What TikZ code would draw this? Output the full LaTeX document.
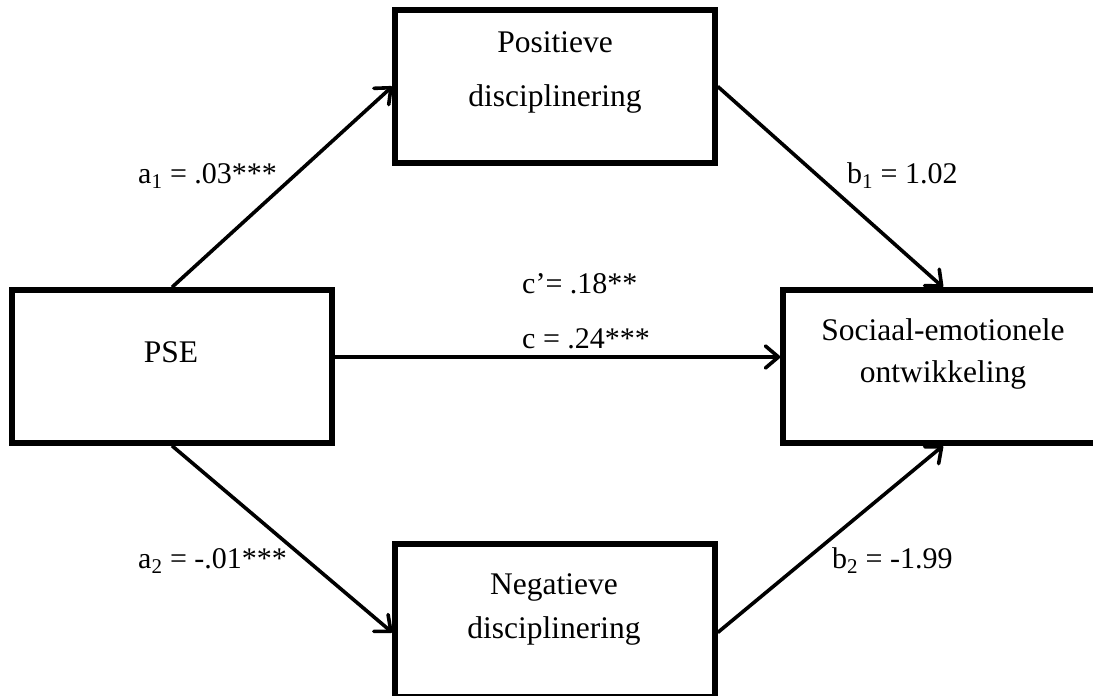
\documentclass[tikz,border=0pt]{standalone}
\usepackage{fontspec}
\setmainfont{Liberation Serif}
\usetikzlibrary{arrows.meta}
\begin{document}
\begin{tikzpicture}[x=1pt,y=-1pt,
  box/.style={draw=black,line width=5.5pt,rectangle,minimum width=320pt,minimum height=153pt,inner sep=0pt},
  txt/.style={anchor=base,inner sep=0pt,font=\fontsize{31.5pt}{38pt}\selectfont},
  lbl/.style={anchor=base west,inner sep=0pt,font=\fontsize{30pt}{36pt}\selectfont},
  arr/.style={line width=3.6pt,-{Straight Barb[length=13pt,width=22pt,line cap=round,line join=round]}}]
\useasboundingbox (0,0) rectangle (1093,696);
\clip (0,0) rectangle (1093,696);
% boxes
\node[box] (pse) at (172,366.5) {};
\node[box] (pos) at (555,86.5) {};
\node[box] (soc) at (943,366.5) {};
\node[box] (neg) at (555,620.5) {};
% box texts
\node[txt] (pset) at (171,362) {PSE};
\node[txt] (post1) at (555,52) {Positieve};
\node[txt] (post2) at (555,106) {disciplinering};
\node[txt] (soct1) at (943,340) {Sociaal-emotionele};
\node[txt] (soct2) at (943,382) {ontwikkeling};
\node[txt] (negt1) at (554,594) {Negatieve};
\node[txt] (negt2) at (554,638) {disciplinering};
% connectors
\coordinate (cy) at (0,357);
\draw[arr] (pse.north) -- (pos.west);
\draw[arr] (pos.east) -- (soc.north);
\draw[arr] (pse.east |- cy) -- (soc.west |- cy);
\draw[arr] (pse.south) -- ([yshift=-12pt]neg.west);
\draw[arr] ([yshift=-12pt]neg.east) -- (soc.south);
% labels
\node[lbl] (la1) at (138,183) {a\textsubscript{1} = .03***};
\node[lbl] (lb1) at (847,183) {b\textsubscript{1} = 1.02};
\node[lbl] (lcp) at (522,293) {c’= .18**};
\node[lbl] (lc) at (522,348) {c = .24***};
\node[lbl] (la2) at (138,568) {a\textsubscript{2} = -.01***};
\node[lbl] (lb2) at (832,568) {b\textsubscript{2} = -1.99};
\end{tikzpicture}
\end{document}
